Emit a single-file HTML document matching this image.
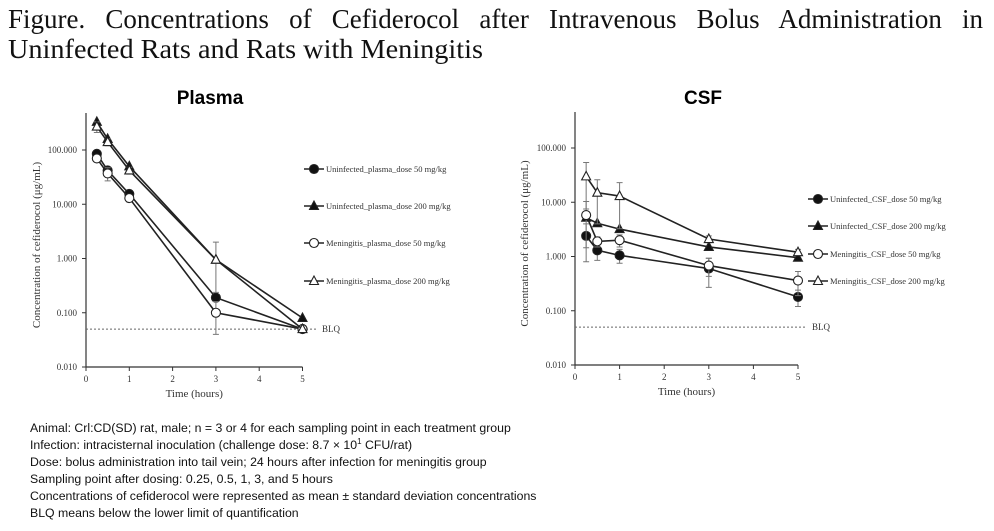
<!DOCTYPE html>
<html><head><meta charset="utf-8"><style>
html,body{margin:0;padding:0;background:#fff;}
svg{display:block;}
.ser{font-family:"Liberation Serif",serif;}
.sans{font-family:"Liberation Sans",sans-serif;}
</style></head><body>
<svg id="fig" width="994" height="531" viewBox="0 0 994 531" xmlns="http://www.w3.org/2000/svg">
<text id="t1" class="ser" x="8" y="28" font-size="27" fill="#111">Figure. Concentrations of Cefiderocol after Intravenous Bolus Administration in</text>
<text class="ser" x="8" y="58" font-size="27" textLength="475" lengthAdjust="spacingAndGlyphs" fill="#111">Uninfected Rats and Rats with Meningitis</text>
<text class="sans" x="210" y="104" font-size="19" font-weight="bold" text-anchor="middle">Plasma</text>
<text class="sans" x="703" y="104" font-size="19" font-weight="bold" text-anchor="middle">CSF</text>
<g id="plasma"></g>
<g id="csf"></g>
<g class="sans" font-size="12.3" fill="#111">
<text x="30" y="432">Animal: Crl:CD(SD) rat, male; n = 3 or 4 for each sampling point in each treatment group</text>
<text x="30" y="449">Infection: intracisternal inoculation (challenge dose: 8.7 × 10<tspan font-size="8" dy="-5">1</tspan><tspan dy="5"> CFU/rat)</tspan></text>
<text x="30" y="466">Dose: bolus administration into tail vein; 24 hours after infection for meningitis group</text>
<text x="30" y="483">Sampling point after dosing: 0.25, 0.5, 1, 3, and 5 hours</text>
<text x="30" y="500">Concentrations of cefiderocol were represented as mean ± standard deviation concentrations</text>
<text x="30" y="517">BLQ means below the lower limit of quantification</text>
</g>
</svg>
<script>
(function(){
  const t = document.getElementById('t1');
  const full = t.getComputedTextLength();
  const nwords = t.textContent.split(' ').length;
  const extra = (975 - full) / (nwords - 1);
  t.setAttribute('word-spacing', extra.toFixed(2));
  if (full > 975) { t.setAttribute('textLength', 975); t.setAttribute('lengthAdjust', 'spacingAndGlyphs'); t.setAttribute('word-spacing', 0); }
})();
const times = [0.25, 0.5, 1, 3, 5];
const xTicks = [0, 1, 2, 3, 4, 5];
const yTicks = [0.01, 0.1, 1, 10, 100];
const yTickLabels = ["0.010", "0.100", "1.000", "10.000", "100.000"];
const blq = 0.05;
const plasmaU50 = [85, 42, 15.5, 0.19, 0.05];
const plasmaU200 = [330, 160, 50, 0.95, 0.08];
const plasmaM50 = [70, 37, 13, 0.1, 0.05];
const plasmaM200 = [270, 140, 42, 0.95, 0.05];
const plasmaM200Err = [60, 20, 6, 1.05, 0];
const plasmaM50Err = [10, 10, 2, 0.06, 0];
const csfU50 = [2.4, 1.3, 1.05, 0.6, 0.18];
const csfU200 = [5.2, 4.1, 3.2, 1.5, 0.95];
const csfM50 = [5.8, 1.9, 2.0, 0.68, 0.36];
const csfM200 = [30, 15, 13, 2.1, 1.2];
const csfM200Err = [24, 11, 10, 0.3, 0.15];
const csfU50Err = [1.6, 0.45, 0.3, 0.33, 0.06];
const csfM50Err = [4.5, 0.4, 0.5, 0.25, 0.17];
const plasmaLabels = ["Uninfected_plasma_dose 50 mg/kg","Uninfected_plasma_dose 200 mg/kg","Meningitis_plasma_dose 50 mg/kg","Meningitis_plasma_dose 200 mg/kg"];
const csfLabels = ["Uninfected_CSF_dose 50 mg/kg","Uninfected_CSF_dose 200 mg/kg","Meningitis_CSF_dose 50 mg/kg","Meningitis_CSF_dose 200 mg/kg"];
const NS = "http://www.w3.org/2000/svg";
function mk(parent, tag, attrs, txt){
  const e = document.createElementNS(NS, tag);
  for (const k in attrs) e.setAttribute(k, attrs[k]);
  if (txt !== undefined) e.textContent = txt;
  parent.appendChild(e);
  return e;
}
function marker(g, kind, x, y){
  const fill = (kind === 'fc' || kind === 'ft') ? '#111' : '#fff';
  let m;
  if (kind === 'fc' || kind === 'oc') m = mk(g, 'circle', {cx:x, cy:y, r:4.5, fill:fill, stroke:'#222', 'stroke-width':1.1});
  else m = mk(g, 'polygon', {points:`${x},${y-5} ${x-4.5},${y+3.5} ${x+4.5},${y+3.5}`, fill:fill, stroke:'#222', 'stroke-width':1.1});
  return m;
}
function drawChart(id, cfg){
  const g = document.getElementById(id);
  const X = t => cfg.x0 + (cfg.x5 - cfg.x0) * t / 5;
  const Y = v => cfg.y001 - (cfg.y001 - cfg.y100) * (Math.log10(v) + 2) / 4;
  const ax = mk(g, 'path', {d:`M${cfg.x0},${cfg.top} V${cfg.y001} H${cfg.x5}`, fill:'none', stroke:'#333', 'stroke-width':1.2});
  
  
  yTicks.forEach((v, i) => {
    const y = Y(v);
    mk(g, 'line', {x1:cfg.x0-4, x2:cfg.x0, y1:y, y2:y, stroke:'#333'});
    const t = mk(g, 'text', {x:cfg.x0-9, y:y+3, 'font-size':9, 'text-anchor':'end', class:'ser', fill:'#333'}, yTickLabels[i]);
    
    
  });
  xTicks.forEach(v => {
    const x = X(v);
    mk(g, 'line', {x1:x, x2:x, y1:cfg.y001, y2:cfg.y001+4, stroke:'#333'});
    const t = mk(g, 'text', {x:x, y:cfg.y001+15, 'font-size':9, 'text-anchor':'middle', class:'ser', fill:'#333'}, String(v));
    
    
  });
  const xt = mk(g, 'text', {x:(cfg.x0+cfg.x5)/2, y:cfg.y001+30, 'font-size':11, 'text-anchor':'middle', class:'ser', fill:'#333'}, 'Time (hours)');
  
  
  const ym = (cfg.top + cfg.y001) / 2 + 5;
  const yt = mk(g, 'text', {x:cfg.ytx, y:ym, 'font-size':11, 'text-anchor':'middle', class:'ser', fill:'#333', transform:`rotate(-90 ${cfg.ytx} ${ym})`}, 'Concentration of cefiderocol (μg/mL)');
  
  
  const bl = mk(g, 'line', {x1:cfg.x0, x2:cfg.blqEnd, y1:Y(blq), y2:Y(blq), stroke:'#666', 'stroke-dasharray':'2,2'});
  
  
  const bt = mk(g, 'text', {x:cfg.blqEnd+6, y:Y(blq)+3, 'font-size':9, class:'ser', fill:'#333'}, 'BLQ');
  
  
  cfg.series.forEach((s, si) => {
    const sg = mk(g, 'g', {});
    
    
    if (s.err) s.vals.forEach((v, i) => {
      if (!s.err[i]) return;
      const x = X(times[i]), hi = Y(v + s.err[i]), lo = Y(Math.max(v - s.err[i], v * 0.25));
      mk(sg, 'path', {d:`M${x},${hi} V${lo} M${x-3},${hi} H${x+3} M${x-3},${lo} H${x+3}`, stroke:'#777', 'stroke-width':1, fill:'none'});
    });
    mk(sg, 'polyline', {points:s.vals.map((v, i) => X(times[i]) + ',' + Y(v)).join(' '), fill:'none', stroke:'#222', 'stroke-width':1.6});
    s.vals.forEach((v, i) => {
      const m = marker(sg, s.kind, X(times[i]), Y(v));
      
      
    });
    const ly = cfg.legY[si];
    const lg = mk(g, 'g', {});
    
    
    mk(lg, 'line', {x1:cfg.legX, x2:cfg.legX+20, y1:ly, y2:ly, stroke:'#222', 'stroke-width':1.6});
    marker(lg, s.kind, cfg.legX+10, ly);
    mk(lg, 'text', {x:cfg.legX+22, y:ly+3, 'font-size':8.5, class:'ser', fill:'#333'}, cfg.labels[si]);
  });
}
drawChart('plasma', {x0:86, x5:302.5, y100:150, y001:367, top:113, ytx:40, blqEnd:316, legX:304, legY:[169,206,243,281], labels:plasmaLabels,
  series:[
    {name:'uninfected-50', vals:plasmaU50, kind:'fc'},
    {name:'uninfected-200', vals:plasmaU200, kind:'ft'},
    {name:'meningitis-50', vals:plasmaM50, kind:'oc', err:plasmaM50Err},
    {name:'meningitis-200', vals:plasmaM200, kind:'ot', err:plasmaM200Err}]});
drawChart('csf', {x0:575, x5:798, y100:148, y001:365, top:112, ytx:528, blqEnd:806, legX:808, legY:[199,226,254,281], labels:csfLabels,
  series:[
    {name:'uninfected-50', vals:csfU50, kind:'fc', err:csfU50Err},
    {name:'uninfected-200', vals:csfU200, kind:'ft'},
    {name:'meningitis-50', vals:csfM50, kind:'oc', err:csfM50Err},
    {name:'meningitis-200', vals:csfM200, kind:'ot', err:csfM200Err}]});
</script>
</body></html>
